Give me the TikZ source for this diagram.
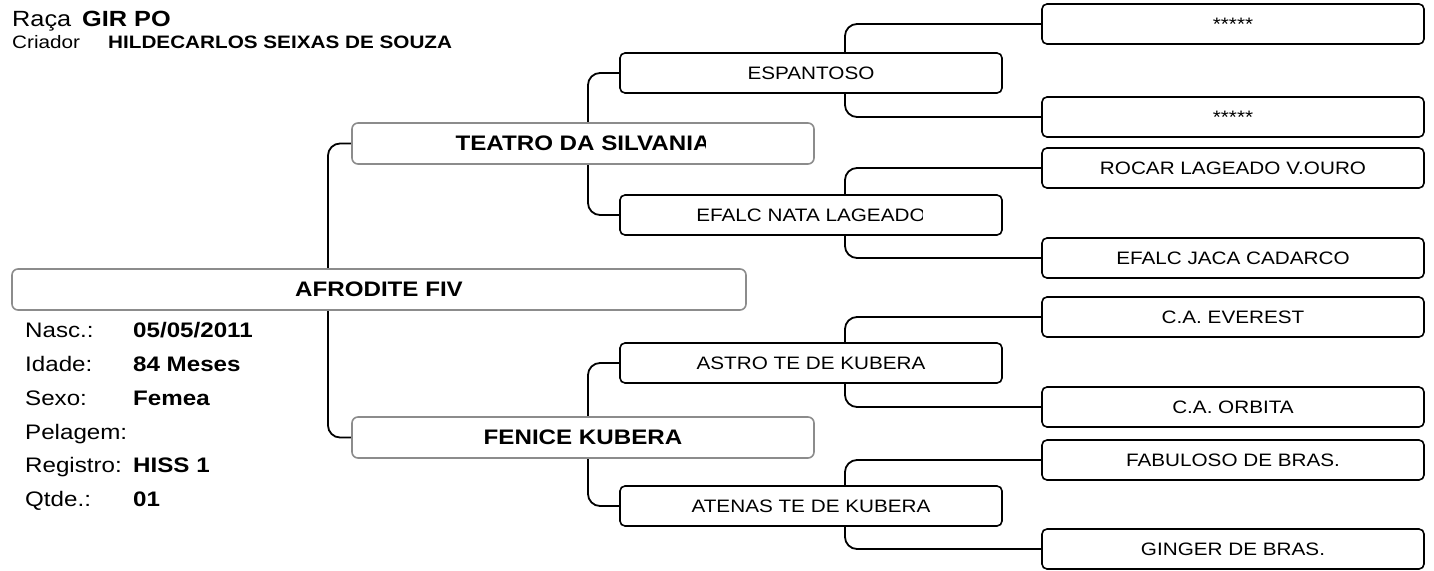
\documentclass[tikz,border=0pt]{standalone}
\usepackage{fontspec}
\setmainfont{Liberation Sans}
\newfontfamily\pedfont[FakeStretch=1.15]{Liberation Sans}
\usepackage{tikz}
\usetikzlibrary{positioning, backgrounds}
\definecolor{boxgray}{HTML}{8C8C8C}
\tikzset{
  animal/.style={
    rectangle, rounded corners=6pt,
    minimum width=734pt, minimum height=41pt, inner sep=0pt,
    draw=boxgray, line width=1.6pt, fill=white,
    font=\pedfont\bfseries\fontsize{21}{24}\selectfont,
  },
  parent/.style={animal, minimum width=462pt},
  grand/.style={
    rectangle, rounded corners=5pt,
    minimum width=382pt, minimum height=40pt, inner sep=0pt,
    draw=black, line width=1.6pt, fill=white,
    font=\pedfont\fontsize{18}{20}\selectfont,
  },
  bigname/.style={inner sep=0pt, font=\pedfont\bfseries\fontsize{21}{24}\selectfont},
  smallname/.style={inner sep=0pt, font=\pedfont\fontsize{18}{20}\selectfont},
  link/.style={line width=1.8pt, rounded corners=12pt},
  infolabel/.style={anchor=base west, inner sep=0pt, font=\pedfont\fontsize{21}{24}\selectfont},
  infovalue/.style={anchor=base west, inner sep=0pt, font=\pedfont\bfseries\fontsize{21}{24}\selectfont},
}

\begin{document}
\begin{tikzpicture}[x=1pt, y=-1pt]
  \useasboundingbox (0,0) rectangle (1434,570);

  % header
  \node[anchor=base west, inner sep=0pt, font=\pedfont\fontsize{22}{26}\selectfont] (raca) at (12,27) {Raça};
  \node[anchor=base west, inner sep=0pt, font=\pedfont\bfseries\fontsize{22}{26}\selectfont] (racaval) at (82,27) {GIR PO};
  \node[anchor=base west, inner sep=0pt, font=\pedfont\fontsize{18}{20}\selectfont] (criador) at (12,48) {Criador};
  \node[anchor=base west, inner sep=0pt, font=\pedfont\bfseries\fontsize{18}{20}\selectfont] (criadorval) at (108,48) {HILDECARLOS SEIXAS DE SOUZA};

  % animal
  \node[animal] (afrodite) at (379,289.5) {AFRODITE FIV};

  \node[infolabel] (nasc) at (25,337) {Nasc.:};
  \node[infolabel] (idade) at (25,371) {Idade:};
  \node[infolabel] (sexo) at (25,405) {Sexo:};
  \node[infolabel] (pelagem) at (25,439) {Pelagem:};
  \node[infolabel] (registro) at (25,472) {Registro:};
  \node[infolabel] (qtde) at (25,506) {Qtde.:};
  \node[infovalue] (nascval) at (133,337) {05/05/2011};
  \node[infovalue] (idadeval) at (133,371) {84 Meses};
  \node[infovalue] (sexoval) at (133,405) {Femea};
  \node[infovalue] (registroval) at (133,472) {HISS 1};
  \node[infovalue] (qtdeval) at (133,506) {01};

  % parents
  \node[parent] (teatro) at (583,143.5) {};
  \begin{scope}
    \clip (teatro.north west) rectangle ([xshift=-109pt]teatro.south east);
    \node[bigname] (teatrotxt) at (teatro.center) {TEATRO DA SILVANIA};
  \end{scope}
  \node[parent] (fenice) at (583,437.5) {FENICE KUBERA};

  % grandparents
  \node[grand] (espantoso) at (811,73) {ESPANTOSO};
  \node[grand] (nata) at (811,215) {};
  \begin{scope}
    \clip (nata.north west) rectangle ([xshift=-80pt]nata.south east);
    \node[smallname] (natatxt) at (nata.center) {EFALC NATA LAGEADO};
  \end{scope}
  \node[grand] (astro) at (811,363) {ASTRO TE DE KUBERA};
  \node[grand] (atenas) at (811,506) {ATENAS TE DE KUBERA};

  % great-grandparents
  \node[grand] (ggA) at (1233,24) {*****};
  \node[grand] (ggB) at (1233,117) {*****};
  \node[grand] (rocar) at (1233,168) {ROCAR LAGEADO V.OURO};
  \node[grand] (jaca) at (1233,258) {EFALC JACA CADARCO};
  \node[grand] (everest) at (1233,317) {C.A. EVEREST};
  \node[grand] (orbita) at (1233,407) {C.A. ORBITA};
  \node[grand] (fabuloso) at (1233,460) {FABULOSO DE BRAS.};
  \node[grand] (ginger) at (1233,549) {GINGER DE BRAS.};

  \coordinate (jafrodite) at (328,289.5);
  \coordinate (jteatro) at (588,143.5);
  \coordinate (jfenice) at (588,437.5);
  \coordinate (jespantoso) at (845,73);
  \coordinate (jnata) at (845,215);
  \coordinate (jastro) at (845,363);
  \coordinate (jatenas) at (845,506);

  \begin{scope}[on background layer]
    \draw[link] (jafrodite) |- (teatro.west);
    \draw[link] (jafrodite) |- (fenice.west);
    \draw[link] (jteatro) |- (espantoso.west);
    \draw[link] (jteatro) |- (nata.west);
    \draw[link] (jfenice) |- (astro.west);
    \draw[link] (jfenice) |- (atenas.west);
    \draw[link] (jespantoso) |- (ggA.west);
    \draw[link] (jespantoso) |- (ggB.west);
    \draw[link] (jnata) |- (rocar.west);
    \draw[link] (jnata) |- (jaca.west);
    \draw[link] (jastro) |- (everest.west);
    \draw[link] (jastro) |- (orbita.west);
    \draw[link] (jatenas) |- (fabuloso.west);
    \draw[link] (jatenas) |- (ginger.west);
  \end{scope}

\end{tikzpicture}
\end{document}
